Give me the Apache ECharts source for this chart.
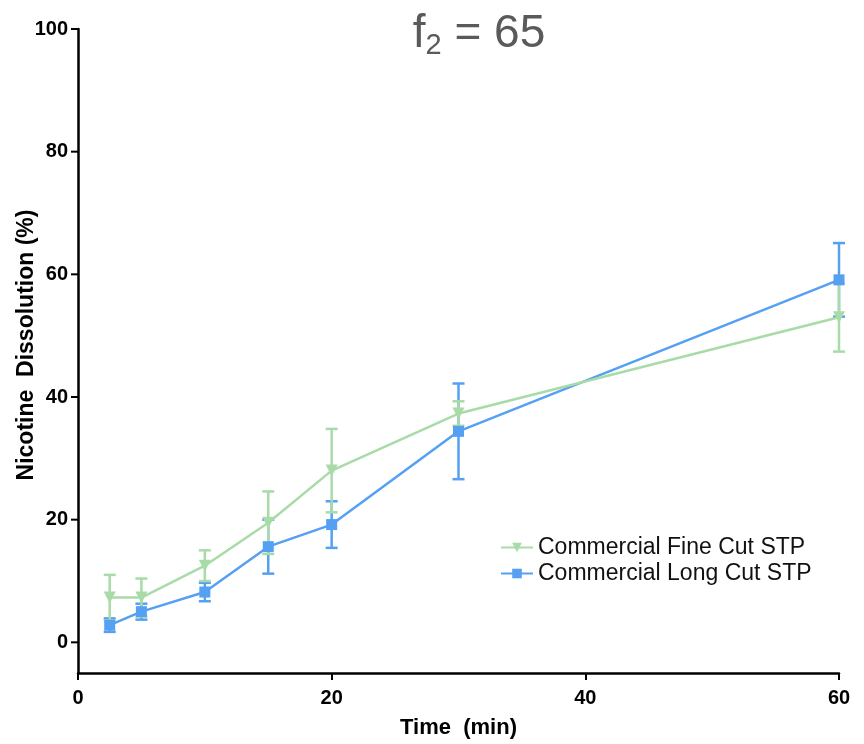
<!DOCTYPE html>
<html><head><meta charset="utf-8">
<script src="https://cdn.jsdelivr.net/npm/echarts@6/dist/echarts.min.js"></script>
<style>html,body{margin:0;padding:0;background:#fff}#c{width:864px;height:744px}</style>
</head><body><div id="c"></div>
<script>
const times = [2.5, 5, 10, 15, 20, 30, 60];
const fineMean = [7.3, 7.3, 12.5, 19.5, 28.0, 37.3, 53.0];
const fineSD   = [3.7, 3.1, 2.5, 5.1, 6.8, 2.0, 5.6];
const longMean = [2.8, 5.0, 8.2, 15.6, 19.2, 34.4, 59.1];
const longSD   = [1.1, 1.3, 1.5, 4.4, 3.8, 7.8, 6.0];
const xTicks = [0, 20, 40, 60];
const yTicks = [0, 20, 40, 60, 80, 100];

const fineColor = '#a8dba8';
const longColor = '#55a0f2';
const baseFont = 'Liberation Sans, Arial, sans-serif';

function errSeries(mean, sd, color) {
  return {
    type: 'custom',
    silent: true,
    z: 1,
    data: times.map((t, i) => [t, mean[i] - sd[i], mean[i] + sd[i]]),
    renderItem: function (params, api) {
      const lo = api.coord([api.value(0), api.value(1)]);
      const hi = api.coord([api.value(0), api.value(2)]);
      const w = 6;
      const st = { stroke: color, lineWidth: 2.5 };
      return { type: 'group', children: [
        { type: 'line', shape: { x1: lo[0], y1: lo[1], x2: hi[0], y2: hi[1] }, style: st },
        { type: 'line', shape: { x1: lo[0] - w, y1: lo[1], x2: lo[0] + w, y2: lo[1] }, style: st },
        { type: 'line', shape: { x1: hi[0] - w, y1: hi[1], x2: hi[0] + w, y2: hi[1] }, style: st }
      ]};
    }
  };
}

const chart = echarts.init(document.getElementById('c'), null, { renderer: 'canvas' });
chart.setOption({
  backgroundColor: '#fff',
  animation: false,
  title: {
    text: '{f|f}{s|2}{f| = 65}',
    left: 474, top: 3, textAlign: 'center',
    textStyle: {
      rich: {
        f: { fontSize: 46, fontWeight: 'normal', color: '#5a5a5a', fontFamily: baseFont },
        s: { fontSize: 29, fontWeight: 'normal', color: '#5a5a5a', fontFamily: baseFont, padding: [23, 0, 0, 0] }
      }
    }
  },
  graphic: [{
    type: 'text', x: 27, y: 345, rotation: Math.PI / 2,
    style: { text: 'Nicotine  Dissolution (%)', font: 'bold 23px ' + baseFont, fill: '#000',
      textAlign: 'center', textVerticalAlign: 'middle' }
  }],
  legend: {
    left: 495, top: 531, orient: 'vertical', itemGap: 3,
    itemWidth: 32, itemHeight: 12,
    textStyle: { fontSize: 23, color: '#111', fontFamily: baseFont },
    data: ['Commercial Fine Cut STP', 'Commercial Long Cut STP']
  },
  grid: { left: 78, right: 25, top: 29, bottom: 70, containLabel: false },
  xAxis: {
    type: 'value', min: 0, max: 60, interval: 20,
    name: 'Time  (min)', nameLocation: 'middle', nameGap: 44,
    nameTextStyle: { fontSize: 22, fontWeight: 'bold', color: '#000', fontFamily: baseFont },
    axisLine: { onZero: false, lineStyle: { color: '#000', width: 2.5 } },
    axisTick: { length: 7, lineStyle: { color: '#000', width: 2 } },
    axisLabel: { fontSize: 20, fontWeight: 'bold', color: '#000', margin: 15, fontFamily: baseFont,
      formatter: v => xTicks.includes(v) ? String(v) : '' },
    splitLine: { show: false }
  },
  yAxis: {
    type: 'value', min: -5, max: 100,
    axisLine: { onZero: false, lineStyle: { color: '#000', width: 2.5 } },
    axisTick: { show: false },
    axisLabel: { show: false },
    splitLine: { show: false }
  },
  series: [
    errSeries(longMean, longSD, longColor),
    errSeries(fineMean, fineSD, fineColor),
    {
      type: 'custom', silent: true, z: 0,
      data: yTicks.map(v => [0, v]),
      renderItem: function (params, api) {
        const p = api.coord([0, api.value(1)]);
        return { type: 'group', children: [
          { type: 'line', shape: { x1: p[0] - 7, y1: p[1], x2: p[0], y2: p[1] }, style: { stroke: '#000', lineWidth: 2 } },
          { type: 'text', style: { text: String(api.value(1)), x: p[0] - 10, y: p[1], textAlign: 'right', textVerticalAlign: 'middle',
            font: 'bold 20px ' + baseFont, fill: '#000' } }
        ]};
      }
    },
    {
      name: 'Commercial Long Cut STP', type: 'line', z: 3,
      data: times.map((t, i) => [t, longMean[i]]),
      symbol: 'rect', symbolSize: 11,
      lineStyle: { color: longColor, width: 2.5 },
      itemStyle: { color: longColor }
    },
    {
      name: 'Commercial Fine Cut STP', type: 'line', z: 4,
      data: times.map((t, i) => [t, fineMean[i]]),
      symbol: 'triangle', symbolRotate: 180, symbolSize: 12,
      lineStyle: { color: fineColor, width: 2.5 },
      itemStyle: { color: fineColor }
    }
  ]
});
</script></body></html>
